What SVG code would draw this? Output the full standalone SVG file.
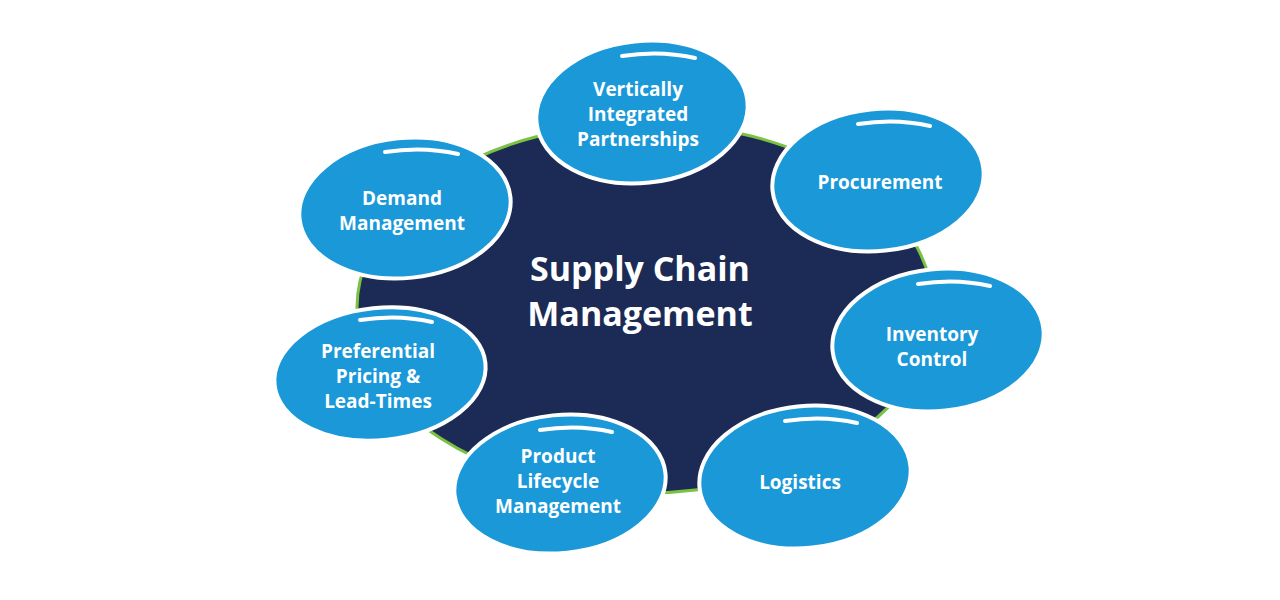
<svg xmlns="http://www.w3.org/2000/svg" width="1280" height="600" viewBox="0 0 1280 600">
<style>
.b{fill:#1a98d8;stroke:#fff;stroke-width:4}
.h{fill:none;stroke:#fff;stroke-width:4;stroke-linecap:round}
.t{font-family:"Open Sans",sans-serif;font-weight:bold;font-size:19px;fill:#fff;text-anchor:middle}
.c{font-family:"Open Sans",sans-serif;font-weight:bold;font-size:34px;fill:#fff;text-anchor:middle}
</style>
<rect width="1280" height="600" fill="#fff"/>
<g id="center">
<ellipse cx="645" cy="308" rx="288" ry="185" fill="#1b2b55" stroke="#7cc242" stroke-width="3"/>
<text class="c" x="640" y="281">Supply Chain</text>
<text class="c" x="640" y="326">Management</text>
</g>
<g id="n1"><ellipse class="b" cx="642" cy="112" rx="106" ry="71" transform="rotate(-6 642 112)"/><path class="h" d="M622 56 Q660 50 695 58"/><text class="t" x="638" y="96">Vertically</text><text class="t" x="638" y="121">Integrated</text><text class="t" x="638" y="146">Partnerships</text></g>
<g id="n2"><ellipse class="b" cx="878" cy="180" rx="106" ry="71" transform="rotate(-6 878 180)"/><path class="h" d="M858 124 Q896 118 930 126"/><text class="t" x="880" y="189">Procurement</text></g>
<g id="n3"><ellipse class="b" cx="405" cy="208" rx="106" ry="70" transform="rotate(-6 405 208)"/><path class="h" d="M385 152 Q423 146 458 154"/><text class="t" x="402" y="205">Demand</text><text class="t" x="402" y="230">Management</text></g>
<g id="n4"><ellipse class="b" cx="938" cy="340" rx="106" ry="71" transform="rotate(-6 938 340)"/><path class="h" d="M918 284 Q956 278 990 286"/><text class="t" x="932" y="341">Inventory</text><text class="t" x="932" y="366">Control</text></g>
<g id="n5"><ellipse class="b" cx="380" cy="374" rx="106" ry="66" transform="rotate(-6 380 374)"/><path class="h" d="M360 320 Q398 314 432 322"/><text class="t" x="378" y="358">Preferential</text><text class="t" x="378" y="383">Pricing &amp;</text><text class="t" x="378" y="408">Lead-Times</text></g>
<g id="n6"><ellipse class="b" cx="560" cy="484" rx="106" ry="69" transform="rotate(-6 560 484)"/><path class="h" d="M540 430 Q578 424 612 432"/><text class="t" x="558" y="463">Product</text><text class="t" x="558" y="488">Lifecycle</text><text class="t" x="558" y="513">Management</text></g>
<g id="n7"><ellipse class="b" cx="805" cy="477" rx="106" ry="71" transform="rotate(-6 805 477)"/><path class="h" d="M785 421 Q823 415 857 423"/><text class="t" x="800" y="489">Logistics</text></g>
<g id="connectors"/>
</svg>
